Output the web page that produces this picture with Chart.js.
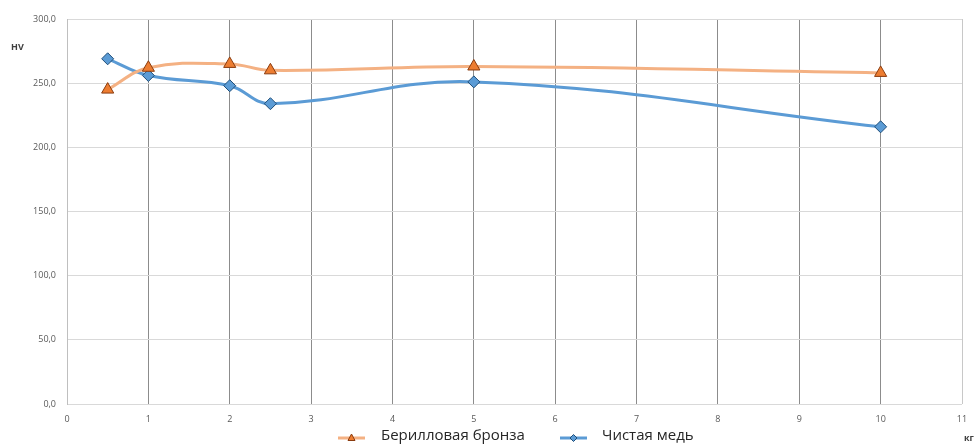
<!DOCTYPE html>
<html>
<head>
<meta charset="utf-8">
<script src="https://cdn.jsdelivr.net/npm/chart.js@4"></script>
<style>
  html, body { margin: 0; padding: 0; background: #fff; }
  #wrap { position: relative; width: 979px; height: 446px; }
</style>
</head>
<body>
<div id="wrap"><canvas id="hvChart" width="979" height="446"></canvas></div>
<script>
// --- data ---
const loads = [0.5, 1, 2, 2.5, 5, 10];
const bronzeHV = [245, 262, 265, 260, 263, 258];
const copperHV = [269, 256, 248, 234, 251, 216];
const seriesNames = ['Берилловая бронза', 'Чистая медь'];
const yTicks = [0, 50, 100, 150, 200, 250, 300];
const xMin = 0, xMax = 11;

const fontFamily = '"Open Sans", "Noto Sans", sans-serif';

const toPoints = (xs, ys) => xs.map((x, i) => ({ x: x, y: ys[i] }));

// axis titles + legend (line with a marker on it, like the office chart)
const extras = {
    id: 'extras',
    afterDraw(chart) {
        const g = chart.ctx;
        g.save();
        g.fillStyle = '#404040';
        g.font = 'bold 9px ' + fontFamily;
        g.textBaseline = 'middle';
        g.textAlign = 'left';
        g.fillText('HV', 11, 47);
        g.fillText('кг', 964, 438);

        const items = [
            { x: 338, textX: 381, ds: chart.data.datasets[0], shape: 'triangle' },
            { x: 560, textX: 602, ds: chart.data.datasets[1], shape: 'diamond' }
        ];
        items.forEach(it => {
            const y = 438;
            g.strokeStyle = it.ds.borderColor;
            g.lineWidth = 3;
            g.beginPath(); g.moveTo(it.x, y); g.lineTo(it.x + 27, y); g.stroke();
            const cx = it.x + 13.5;
            g.fillStyle = it.ds.pointBackgroundColor;
            g.strokeStyle = it.ds.pointBorderColor;
            g.lineWidth = 1;
            g.beginPath();
            if (it.shape === 'triangle') {
                g.moveTo(cx, y - 4); g.lineTo(cx + 3.5, y + 2.5); g.lineTo(cx - 3.5, y + 2.5);
            } else {
                g.moveTo(cx, y - 3.5); g.lineTo(cx + 3.5, y); g.lineTo(cx, y + 3.5); g.lineTo(cx - 3.5, y);
            }
            g.closePath(); g.fill(); g.stroke();
            g.fillStyle = '#262626';
            g.font = '15px ' + fontFamily;
            g.fillText(it.ds.label, it.textX, 436);
        });
        g.restore();
    }
};

const ctx = document.getElementById('hvChart');
new Chart(ctx, {
    type: 'scatter',
    data: {
        datasets: [{
            label: seriesNames[0],
            data: toPoints(loads, bronzeHV),
            showLine: true,
            borderColor: '#F4B183',
            borderWidth: 3,
            tension: 0.4,
            pointStyle: 'triangle',
            pointRadius: 7,
            pointBackgroundColor: '#ED7D31',
            pointBorderColor: '#8A3B0E',
            pointBorderWidth: 1
        }, {
            label: seriesNames[1],
            data: toPoints(loads, copperHV),
            showLine: true,
            borderColor: '#5B9BD5',
            borderWidth: 3,
            tension: 0.4,
            pointStyle: 'rectRot',
            pointRadius: 6,
            pointBackgroundColor: '#5B9BD5',
            pointBorderColor: '#1F4E79',
            pointBorderWidth: 1
        }]
    },
    options: {
        responsive: false,
        animation: false,
        layout: { padding: { top: 19, right: 17, left: 0, bottom: 18 } },
        scales: {
            x: {
                type: 'linear',
                min: xMin,
                max: xMax,
                ticks: {
                    stepSize: 1,
                    color: '#595959',
                    font: { family: fontFamily, size: 9 },
                    padding: 10
                },
                grid: {
                    color: c => (c.tick && (c.tick.value === xMin || c.tick.value === xMax)) ? '#c8c8c8' : '#8c8c8c',
                    lineWidth: 1,
                    drawTicks: false
                },
                border: { display: false },
                afterFit: scale => { scale.height = 24; }
            },
            y: {
                min: 0,
                max: 300,
                afterBuildTicks: scale => { scale.ticks = yTicks.map(v => ({ value: v })); },
                ticks: {
                    color: '#595959',
                    font: { family: fontFamily, size: 9 },
                    padding: 11,
                    callback: v => v.toFixed(1).replace('.', ',')
                },
                grid: {
                    color: '#d9d9d9',
                    lineWidth: 1,
                    drawTicks: false
                },
                border: { color: '#bfbfbf' },
                afterFit: scale => { scale.width = 67; }
            }
        },
        plugins: {
            legend: { display: false },
            tooltip: { enabled: false }
        }
    },
    plugins: [extras]
});
</script>
</body>
</html>
